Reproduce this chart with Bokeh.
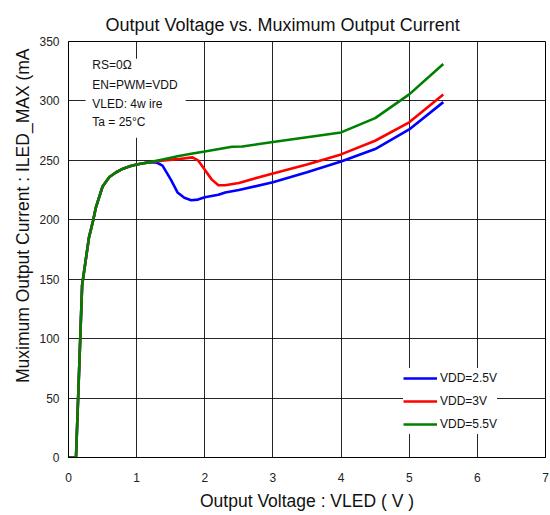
import math
from bokeh.plotting import figure
from bokeh.models import (Range1d, FixedTicker, Label, BoxAnnotation, Legend, LegendItem, Title)
from bokeh.embed import file_html
from bokeh.resources import INLINE

FONT = "Liberation Sans"

# Common rising part (all three curves overlap here)
v_head = [0, 0.11, 0.14, 0.2, 0.3, 0.36, 0.4, 0.5, 0.6, 0.7, 0.8, 0.9, 1.0, 1.1, 1.2]
i_head = [0, 0, 48, 145, 185, 199, 210, 228, 236, 240, 243, 245, 246.5, 247.5, 248.5]

# VDD=2.5V
v_blue = v_head + [1.3, 1.38, 1.5, 1.6, 1.7, 1.8, 1.9, 2.0, 2.2, 2.3, 2.5, 3.0, 3.5, 4.0, 4.5, 5.0, 5.5]
i_blue = i_head + [248, 245.5, 234, 223, 218.5, 216.5, 217, 219, 221, 223, 225, 231.5, 240, 249, 259.5, 276, 299]

# VDD=3V
v_red = v_head + [1.4, 1.6, 1.82, 1.9, 2.0, 2.1, 2.2, 2.3, 2.5, 3.0, 3.5, 4.0, 4.5, 5.0, 5.5]
i_red = i_head + [250, 251, 252.5, 250, 242, 234, 229, 229, 231, 239, 246.5, 255, 266.5, 282, 305.5]

# VDD=5.5V
v_green = v_head + [1.4, 1.6, 1.8, 2.0, 2.4, 2.55, 3.0, 3.5, 4.0, 4.5, 5.0, 5.5]
i_green = i_head + [251, 253.5, 255.5, 257.5, 261.5, 261.6, 265.5, 269.5, 273.5, 285.5, 305.5, 331]

series_names = ["VDD=2.5V", "VDD=3V", "VDD=5.5V"]
series_colors = ["#0000FF", "#FF0000", "#008000"]

x_ticks = [0, 1, 2, 3, 4, 5, 6, 7]
y_ticks = [0, 50, 100, 150, 200, 250, 300, 350]

notes = ["RS=0Ω", "EN=PWM=VDD", "VLED: 4w ire", "Ta = 25°C"]

p = figure(width=550, height=515, output_backend="svg", toolbar_location=None,
           x_range=Range1d(0, 7), y_range=Range1d(0, 350),
           min_border_left=68, min_border_right=5, min_border_top=41, min_border_bottom=58)

p.title.text = "Output Voltage vs. Muximum Output Current"
p.title.align = "left"
p.title.offset = 37
p.title.text_font = FONT
p.title.text_font_size = "18px"
p.title.text_font_style = "normal"
p.title.text_color = "#111111"
p.title.vertical_align = "top"

p.outline_line_color = "black"
p.outline_line_width = 1
p.background_fill_color = "white"
p.border_fill_color = "white"

for ax in (p.xaxis, p.yaxis):
    ax.major_tick_in = 0
    ax.major_tick_out = 0
    ax.minor_tick_in = 0
    ax.minor_tick_out = 0
    ax.axis_line_color = "black"
    ax.major_label_text_font = FONT
    ax.major_label_text_font_size = "12px"
    ax.major_label_text_color = "#222222"

p.xaxis.ticker = FixedTicker(ticks=x_ticks)
p.yaxis.ticker = FixedTicker(ticks=y_ticks)
p.xaxis.major_label_standoff = 15
p.yaxis.major_label_standoff = 9

p.xaxis.axis_label = "Output Voltage : VLED ( V )"
p.xaxis.axis_label_text_font = FONT
p.xaxis.axis_label_text_font_size = "17.5px"
p.xaxis.axis_label_text_font_style = "normal"
p.xaxis.axis_label_text_color = "#111111"
p.xaxis.axis_label_standoff = 6

# y axis label (truncated as in the original), placed as a side title aligned to the top
ylab = Title(text="Muximum Output Current : ILED_MAX (mA", align="right", offset=7,
             text_font=FONT, text_font_size="17.5px", text_font_style="normal",
             text_color="#111111", standoff=8)
p.add_layout(ylab, "left")

p.xgrid.grid_line_color = "black"
p.ygrid.grid_line_color = "black"
p.xgrid.grid_line_width = 1
p.ygrid.grid_line_width = 1
p.xgrid.grid_line_alpha = 0.85
p.ygrid.grid_line_alpha = 0.85

# Note box
p.add_layout(BoxAnnotation(left=0.25, right=1.72, bottom=269, top=335.5,
                           fill_color="white", fill_alpha=1, line_color=None, level="underlay"))
note_y = [330, 313.5, 297.5, 282]
for t, yy in zip(notes, note_y):
    p.add_layout(Label(x=0.35, y=yy, text=t, text_baseline="middle",
                       text_font=FONT, text_font_size="12px", text_color="#111111"))

xs = [v_blue, v_red, v_green]
ys = [i_blue, i_red, i_green]
items = []
for x, y, c, n in zip(xs, ys, series_colors, series_names):
    r = p.line(x, y, line_color=c, line_width=2.6)
    items.append(LegendItem(label=n, renderers=[r]))

legend = Legend(items=items, location=(335, 23), glyph_width=34, glyph_height=20,
                label_height=20, spacing=3, padding=10, label_standoff=3,
                label_text_font=FONT, label_text_font_size="12px", label_text_color="#111111",
                border_line_color=None, background_fill_color="white", background_fill_alpha=1)
p.add_layout(legend)

open("out.html", "w").write(file_html(p, INLINE))
